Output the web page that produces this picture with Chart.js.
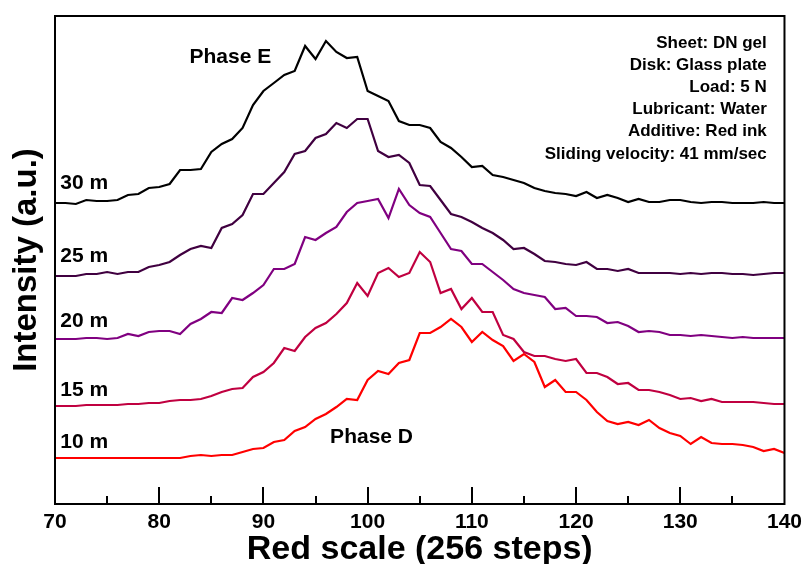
<!DOCTYPE html>
<html>
<head>
<meta charset="utf-8">
<script src="https://cdn.jsdelivr.net/npm/chart.js@4.4.1/dist/chart.umd.min.js"></script>
<style>
  html, body { margin: 0; padding: 0; background: #fff; }
  #wrap { width: 808px; height: 564px; }
</style>
</head>
<body>
<div id="wrap"><canvas id="chart"></canvas></div>
<script>
// red scale steps (x axis)
const redSteps = [
  70, 71, 72, 73, 74, 75, 76, 77, 78, 79,
  80, 81, 82, 83, 84, 85, 86, 87, 88, 89,
  90, 91, 92, 93, 94, 95, 96, 97, 98, 99,
  100, 101, 102, 103, 104, 105, 106, 107, 108, 109,
  110, 111, 112, 113, 114, 115, 116, 117, 118, 119,
  120, 121, 122, 123, 124, 125, 126, 127, 128, 129,
  130, 131, 132, 133, 134, 135, 136, 137, 138, 139,
  140
];

// intensity (a.u.), curves are offset vertically
const int10m = [
  46, 46, 46, 46, 46, 46, 46, 46, 46, 46,
  46, 46, 46, 48, 49, 48, 49, 49, 52, 55,
  56, 62, 64, 73, 77, 85, 90, 97, 105, 104,
  124, 133, 130, 141, 144, 171, 171, 177, 185, 177,
  162, 172, 164, 158, 143, 150, 142, 117, 124, 112,
  112, 104, 92, 83, 80, 82, 79, 84, 76, 71,
  68, 60, 67, 61, 60, 60, 59, 57, 53, 55,
  51
];
const int15m = [
  98, 98, 98, 99, 99, 99, 99, 100, 100, 101,
  101, 103, 104, 104, 105, 108, 112, 115, 116, 127,
  132, 141, 156, 153, 167, 176, 181, 190, 201, 221,
  208, 231, 236, 227, 231, 252, 242, 211, 215, 195,
  206, 192, 192, 169, 165, 152, 148, 148, 145, 143,
  145, 131, 131, 127, 120, 121, 114, 114, 112, 109,
  105, 106, 103, 105, 102, 102, 102, 102, 101, 100,
  100
];
const int20m = [
  165, 165, 165, 166, 166, 165, 166, 170, 168, 172,
  173, 173, 170, 180, 185, 192, 191, 206, 204, 211,
  219, 235, 235, 240, 267, 264, 271, 277, 292, 301,
  303, 305, 286, 315, 299, 291, 287, 271, 255, 253,
  240, 240, 232, 224, 215, 211, 209, 207, 195, 196,
  188, 188, 187, 181, 182, 178, 172, 173, 172, 169,
  169, 168, 169, 168, 167, 166, 167, 166, 166, 166,
  166
];
const int25m = [
  228, 228, 228, 230, 230, 232, 230, 232, 232, 237,
  239, 242, 249, 255, 258, 256, 276, 280, 289, 310,
  310, 321, 332, 350, 353, 366, 370, 381, 376, 385,
  385, 353, 347, 349, 341, 319, 318, 304, 290, 287,
  282, 276, 271, 264, 255, 256, 250, 243, 242, 240,
  239, 242, 235, 235, 233, 235, 231, 231, 231, 231,
  230, 231, 230, 231, 231, 230, 230, 229, 230, 231,
  231
];
const int30m = [
  301, 301, 300, 304, 303, 303, 304, 309, 310, 316,
  317, 320, 334, 334, 335, 352, 360, 365, 376, 399,
  413, 421, 429, 433, 458, 445, 463, 452, 446, 447,
  413, 408, 403, 383, 379, 379, 376, 362, 356, 347,
  337, 338, 329, 327, 324, 321, 316, 313, 311, 310,
  308, 312, 306, 309, 306, 302, 305, 302, 302, 304,
  304, 302, 301, 302, 302, 301, 301, 301, 302, 301,
  301
];

const seriesNames = ["10 m", "15 m", "20 m", "25 m", "30 m"];
const seriesColors = ["#ff0000", "#c00040", "#800080", "#400040", "#000000"];
const seriesData = [int10m, int15m, int20m, int25m, int30m];

const conditions = [
  "Sheet: DN gel",
  "Disk: Glass plate",
  "Load: 5 N",
  "Lubricant: Water",
  "Additive: Red ink",
  "Sliding velocity: 41 mm/sec"
];

const FONT = "'Liberation Sans', Arial, Helvetica, sans-serif";

// frame, inward ticks and text labels
const decorPlugin = {
  id: "decor",
  afterDraw(chart) {
    const { ctx, chartArea: a, scales: { x, y } } = chart;
    ctx.save();
    ctx.strokeStyle = "#000";
    ctx.lineWidth = 2;
    ctx.strokeRect(a.left, a.top, a.right - a.left, a.bottom - a.top);

    // ticks pointing into the plot
    ctx.beginPath();
    for (let v = 75; v < 140; v += 5) {
      const px = Math.round(x.getPixelForValue(v));
      const len = v % 10 === 0 ? 17 : 8;
      ctx.moveTo(px, a.bottom);
      ctx.lineTo(px, a.bottom - len);
    }
    ctx.stroke();

    ctx.fillStyle = "#000";
    ctx.textBaseline = "middle";

    // curve labels
    ctx.font = "bold 21px " + FONT;
    ctx.textAlign = "left";
    const labelY = [62, 114, 183, 248, 321];
    seriesNames.forEach((n, i) => {
      ctx.fillText(n, x.getPixelForValue(70.5), y.getPixelForValue(labelY[i]));
    });
    ctx.fillText("Phase E", x.getPixelForValue(82.9), y.getPixelForValue(447));
    ctx.fillText("Phase D", x.getPixelForValue(96.4), y.getPixelForValue(67));

    // experiment conditions
    ctx.font = "bold 17px " + FONT;
    ctx.textAlign = "right";
    conditions.forEach((t, i) => {
      ctx.fillText(t, x.getPixelForValue(138.3), y.getPixelForValue(461 - i * 22.2));
    });
    ctx.restore();
  }
};

new Chart(document.getElementById("chart"), {
  type: "line",
  data: {
    datasets: seriesData.map((d, i) => ({
      label: seriesNames[i],
      data: d.map((v, j) => ({ x: redSteps[j], y: v })),
      borderColor: seriesColors[i],
      borderWidth: 2.2,
      pointRadius: 0,
      tension: 0,
      fill: false
    }))
  },
  options: {
    responsive: true,
    maintainAspectRatio: false,
    animation: false,
    layout: { padding: { top: 16, right: 22, left: 0, bottom: 0 } },
    plugins: { legend: { display: false }, tooltip: { enabled: false } },
    scales: {
      x: {
        type: "linear",
        min: 70,
        max: 140,
        grid: { display: false, drawTicks: false },
        border: { display: false },
        ticks: {
          stepSize: 10,
          padding: 6,
          color: "#000",
          font: { family: FONT, size: 21, weight: "bold" },
          maxRotation: 0
        },
        title: {
          display: true,
          text: "Red scale (256 steps)",
          color: "#000",
          font: { family: FONT, size: 34, weight: "bold", lineHeight: 0.85 },
          padding: { top: 0, bottom: 0 }
        },
        afterFit: (s) => { s.height = 60; }
      },
      y: {
        min: 0,
        max: 488,
        grid: { display: false, drawTicks: false },
        border: { display: false },
        ticks: { display: false },
        title: {
          display: true,
          text: "Intensity (a.u.)",
          color: "#000",
          font: { family: FONT, size: 33, weight: "bold", lineHeight: 1 },
          padding: { top: 10, bottom: 0 }
        },
        afterFit: (s) => { s.width = 55; }
      }
    }
  },
  plugins: [decorPlugin]
});
</script>
</body>
</html>
